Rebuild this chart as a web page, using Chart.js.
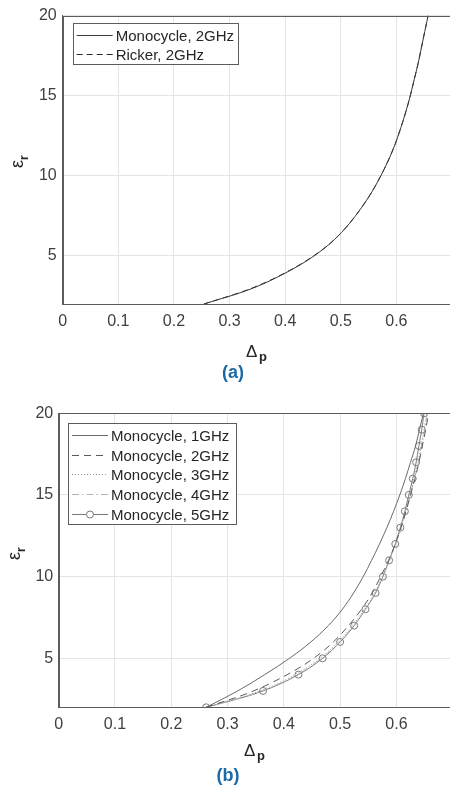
<!DOCTYPE html>
<html lang="en">
<head>
<meta charset="UTF-8">
<title>εr versus Δp</title>
<script src="https://cdn.jsdelivr.net/npm/chart.js"></script>
<style>
  html, body { margin: 0; padding: 0; background: #fff; overflow: hidden; }
  body { width: 450px; height: 791px; position: relative; }
  .panel { position: absolute; left: 0; width: 460px; }
  #panelA { top: 0; height: 385px; }
  #panelB { top: 395px; height: 396px; }
</style>
</head>
<body>
<div class="panel" id="panelA"><canvas id="chartA"></canvas></div>
<div class="panel" id="panelB"><canvas id="chartB"></canvas></div>
<script>
// tick labels shared by both panels
const xTicks = [0, 0.1, 0.2, 0.3, 0.4, 0.5, 0.6];
const yTicks = [5, 10, 15, 20];

// (a) 2 GHz pulses : eps_r samples and the delta_p read for each
const epsA     = [2, 3, 4, 5, 6, 7, 8, 9, 10, 11, 12, 13, 14, 15, 16, 17, 18, 19, 20];
const monoA2   = [0.254, 0.343, 0.404, 0.452, 0.488, 0.515, 0.537, 0.556, 0.572, 0.586, 0.598, 0.608, 0.617, 0.625, 0.632, 0.639, 0.645, 0.651, 0.657];
const rickerA2 = [0.254, 0.341, 0.403, 0.451, 0.488, 0.515, 0.537, 0.556, 0.572, 0.586, 0.598, 0.608, 0.617, 0.625, 0.632, 0.639, 0.645, 0.651, 0.657];

// (b) monocycle at 1..5 GHz
const epsB  = [2, 3, 4, 5, 6, 7, 8, 9, 10, 11, 12, 13, 14, 15, 16, 17, 18, 19, 20];
const mono1 = [0.262, 0.318, 0.366, 0.410, 0.448, 0.479, 0.504, 0.524, 0.541, 0.556, 0.570, 0.583, 0.595, 0.606, 0.616, 0.625, 0.634, 0.641, 0.648];
const mono2 = [0.262, 0.346, 0.406, 0.453, 0.488, 0.515, 0.538, 0.557, 0.572, 0.586, 0.598, 0.608, 0.617, 0.625, 0.633, 0.640, 0.646, 0.652, 0.657];
const mono3 = [0.262, 0.357, 0.420, 0.464, 0.497, 0.522, 0.543, 0.561, 0.575, 0.587, 0.598, 0.608, 0.616, 0.624, 0.631, 0.638, 0.644, 0.649, 0.654];
const mono4 = [0.262, 0.361, 0.424, 0.467, 0.499, 0.524, 0.545, 0.562, 0.576, 0.588, 0.599, 0.609, 0.617, 0.625, 0.632, 0.639, 0.645, 0.650, 0.655];
const mono5 = [0.262, 0.363, 0.426, 0.469, 0.500, 0.525, 0.545, 0.563, 0.576, 0.587, 0.598, 0.607, 0.615, 0.622, 0.629, 0.635, 0.640, 0.645, 0.649];

const FONT = '"Liberation Sans", Arial, Helvetica, sans-serif';

function pts(xs, ys) {
  return xs.map((x, i) => ({ x: x, y: ys[i] }));
}

function series(label, xs, ys, color, dash, radius) {
  return {
    label: label,
    data: pts(xs, ys),
    borderColor: color,
    borderWidth: 1,
    borderDash: dash,
    pointRadius: radius || 0,
    pointBorderColor: color,
    pointBackgroundColor: 'rgba(0,0,0,0)',
    pointBorderWidth: 1,
    cubicInterpolationMode: 'monotone',
    fill: false
  };
}

// frame, inner legend, axis titles with subscripts, panel letter
const deco = {
  id: 'deco',
  afterDraw(chart, args, o) {
    const ctx = chart.ctx;
    const a = chart.chartArea;
    ctx.save();
    ctx.strokeStyle = '#5c5c5c';
    ctx.lineWidth = 1;
    ctx.strokeRect(Math.round(a.left) + 0.5, Math.round(a.top) + 0.5,
                   Math.round(a.right - a.left), Math.round(a.bottom - a.top));

    // legend box
    const L = o.legend;
    ctx.fillStyle = '#fff';
    ctx.fillRect(L.x, L.y, L.w, L.h);
    ctx.strokeStyle = '#5c5c5c';
    ctx.strokeRect(Math.round(L.x) + 0.5, Math.round(L.y) + 0.5, Math.round(L.w), Math.round(L.h));
    ctx.font = '15px ' + FONT;
    ctx.textBaseline = 'middle';
    ctx.textAlign = 'left';
    chart.data.datasets.forEach((ds, i) => {
      const y = Math.round(L.y + L.first + i * L.step) + 0.5;
      ctx.save();
      ctx.strokeStyle = ds.borderColor;
      ctx.lineWidth = ds.borderWidth;
      ctx.setLineDash(ds.borderDash || []);
      ctx.beginPath();
      ctx.moveTo(L.x + 4, y);
      ctx.lineTo(L.x + 40, y);
      ctx.stroke();
      if (ds.pointRadius) {
        ctx.setLineDash([]);
        ctx.fillStyle = '#fff';
        ctx.beginPath();
        ctx.arc(L.x + 22, y, ds.pointRadius, 0, Math.PI * 2);
        ctx.fill();
        ctx.stroke();
      }
      ctx.restore();
      ctx.fillStyle = '#262626';
      ctx.fillText(ds.label, L.x + 43, y + 1);
    });

    // x title: Δ with subscript p
    ctx.textBaseline = 'alphabetic';
    ctx.fillStyle = '#262626';
    ctx.font = '17px ' + FONT;
    ctx.fillText('Δ', o.xt.x, o.xt.y);
    ctx.font = 'bold 13px ' + FONT;
    ctx.fillText('p', o.xt.x + 13, o.xt.y + 4);

    // y title: ε with subscript r, rotated
    ctx.save();
    ctx.translate(o.yt.x, o.yt.y);
    ctx.rotate(-Math.PI / 2);
    ctx.font = '18px ' + FONT;
    ctx.fillText('ε', 0, 0);
    const w = ctx.measureText('ε').width;
    ctx.font = 'bold 12px ' + FONT;
    ctx.fillText('r', w, 5);
    ctx.restore();

    // panel letter
    ctx.font = 'bold 18px ' + FONT;
    ctx.fillStyle = '#1b6aa6';
    ctx.textAlign = 'center';
    ctx.fillText(o.tag.text, o.tag.x, o.tag.y);
    ctx.restore();
  }
};

function makeChart(id, datasets, geo) {
  return new Chart(document.getElementById(id), {
    type: 'line',
    data: { datasets: datasets },
    options: {
      responsive: true,
      maintainAspectRatio: false,
      animation: false,
      layout: { padding: { top: geo.top, right: geo.right, left: 0, bottom: 0 } },
      scales: {
        x: {
          type: 'linear',
          min: 0,
          max: 0.7,
          afterBuildTicks: s => { s.ticks = xTicks.map(v => ({ value: v })); },
          afterFit: s => { s.height = geo.xh; },
          ticks: {
            color: '#404040',
            font: { family: FONT, size: 16 },
            padding: 7.5,
            maxRotation: 0,
            callback: v => String(+(+v).toFixed(1))
          },
          grid: { color: '#e4e4e4', drawTicks: false },
          border: { color: '#5c5c5c' }
        },
        y: {
          type: 'linear',
          min: 2,
          max: 20,
          afterBuildTicks: s => { s.ticks = yTicks.map(v => ({ value: v })); },
          afterFit: s => { s.width = geo.yw; },
          ticks: {
            color: '#404040',
            font: { family: FONT, size: 16 },
            padding: geo.ypad
          },
          grid: { color: '#e4e4e4', drawTicks: false },
          border: { color: '#5c5c5c' }
        }
      },
      plugins: {
        legend: { display: false },
        tooltip: { enabled: false },
        deco: geo.deco
      }
    },
    plugins: [deco]
  });
}

makeChart('chartA', [
  series('Monocycle, 2GHz', monoA2, epsA, '#3a3a3a', []),
  series('Ricker, 2GHz', rickerA2, epsA, '#2a2a2a', [6, 4])
], {
  top: 13.3, right: 8, xh: 81, yw: 62.7, ypad: 6,
  deco: {
    legend: { x: 72.7, y: 22.7, w: 165, h: 41.3, first: 12.3, step: 19 },
    xt: { x: 246, y: 357 },
    yt: { x: 23, y: 168 },
    tag: { text: '(a)', x: 233, y: 378 }
  }
});

makeChart('chartB', [
  series('Monocycle, 1GHz', mono1, epsB, '#6a6a6a', []),
  series('Monocycle, 2GHz', mono2, epsB, '#5a5a5a', [7, 5]),
  series('Monocycle, 3GHz', mono3, epsB, '#9a9a9a', [1, 2]),
  series('Monocycle, 4GHz', mono4, epsB, '#b4b4b4', [7, 3, 1.5, 3]),
  series('Monocycle, 5GHz', mono5, epsB, '#7a7a7a', [], 3.5)
], {
  top: 18.3, right: 7.3, xh: 83.7, yw: 58.7, ypad: 5.5,
  deco: {
    legend: { x: 68, y: 28, w: 168, h: 101, first: 12, step: 19.7 },
    xt: { x: 244, y: 361 },
    yt: { x: 20, y: 165 },
    tag: { text: '(b)', x: 228, y: 386 }
  }
});
</script>
</body>
</html>
